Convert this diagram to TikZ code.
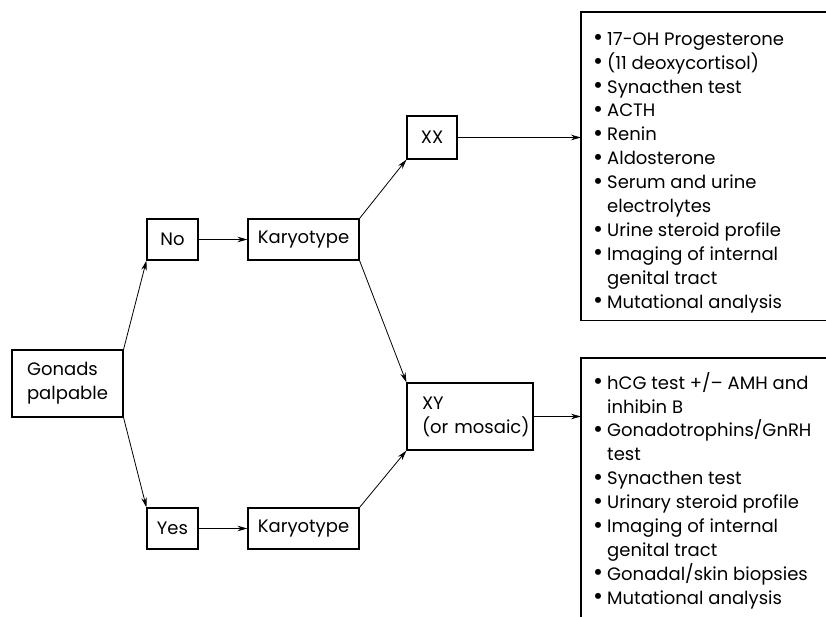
\documentclass[tikz,border=0pt]{standalone}
\usepackage{fontspec}
\setmainfont{Poppins}
\usetikzlibrary{arrows.meta}
\begin{document}
\begin{tikzpicture}[x=1pt,y=-1pt,
  box/.style={draw,line width=1.1pt,inner sep=0pt,align=center,font=\fontsize{18}{24}\selectfont},
  conn/.style={line width=0.8pt,-{Stealth[length=10pt,width=5.5pt]}},
  list/.style={inner sep=0pt,anchor=north west,align=left,font=\fontsize{18}{23.9}\selectfont}]
\useasboundingbox (0,0) rectangle (826,617);
\node[box,minimum width=111pt,minimum height=67pt,align=left] (gon) at (67.5,383.5) {Gonads\\palpable};
\node[box,minimum width=51pt,minimum height=41pt] (no) at (172.5,239.5) {No};
\node[box,minimum width=111pt,minimum height=41pt] (k1) at (303.5,239.5) {Karyotype};
\node[box,minimum width=51pt,minimum height=41pt] (yes) at (172.5,528.5) {Yes};
\node[box,minimum width=111pt,minimum height=41pt] (k2) at (303.5,528.5) {Karyotype};
\node[box,minimum width=50pt,minimum height=43pt] (xx) at (432,137.5) {XX};
\node[box,minimum width=126pt,minimum height=67pt,align=left,text width=126pt] (xy) at (470,416.5) {\hspace*{15pt}XY\\\hspace*{15pt}(or mosaic)};
% right boxes (cut by the picture edge)
\node[inner sep=0pt,minimum width=245pt,minimum height=308pt,anchor=north west] (b1) at (581,12) {};
\node[inner sep=0pt,minimum width=245pt,minimum height=262pt,anchor=north west] (b2) at (581,358) {};
\draw[line width=1.1pt] (b1.north east) -- (b1.north west) -- (b1.south west) -- (b1.south east);
\draw[line width=1.1pt] (b2.north east) -- (b2.north west) -- (b2.south west);
\def\bul{\makebox[14pt][l]{\raisebox{-0.6pt}{\scalebox{1.35}{\textbullet}}}}
\def\ind{\hspace*{14pt}}
\node[list] (t1) at (593,32) {\bul 17-OH Progesterone\\
\bul (11 deoxycortisol)\\
\bul Synacthen test\\
\bul ACTH\\
\bul Renin\\
\bul Aldosterone\\
\bul Serum and urine\\
\ind electrolytes\\
\bul Urine steroid profile\\
\bul Imaging of internal\\
\ind genital tract\\
\bul Mutational analysis};
\node[list] (t2) at (593,372) {\bul hCG test +/-- AMH and\\
\ind inhibin B\\
\bul Gonadotrophins/GnRH\\
\ind test\\
\bul Synacthen test\\
\bul Urinary steroid profile\\
\bul Imaging of internal\\
\ind genital tract\\
\bul Gonadal/skin biopsies\\
\bul Mutational analysis};
% connectors
\draw[conn] (gon.north east) -- (no.south west);
\draw[conn] (gon.south east) -- (yes.north west);
\draw[conn] (no.east) -- (k1.west);
\draw[conn] (yes.east) -- (k2.west);
\draw[conn] (k1.north east) -- (xx.south west);
\draw[conn] (k1.south east) -- (xy.north west);
\draw[conn] (k2.north east) -- (xy.south west);
\draw[conn] (xx.east) -- (xx.east -| b1.west);
\draw[conn] (xy.east) -- (xy.east -| b2.west);
\end{tikzpicture}
\end{document}
